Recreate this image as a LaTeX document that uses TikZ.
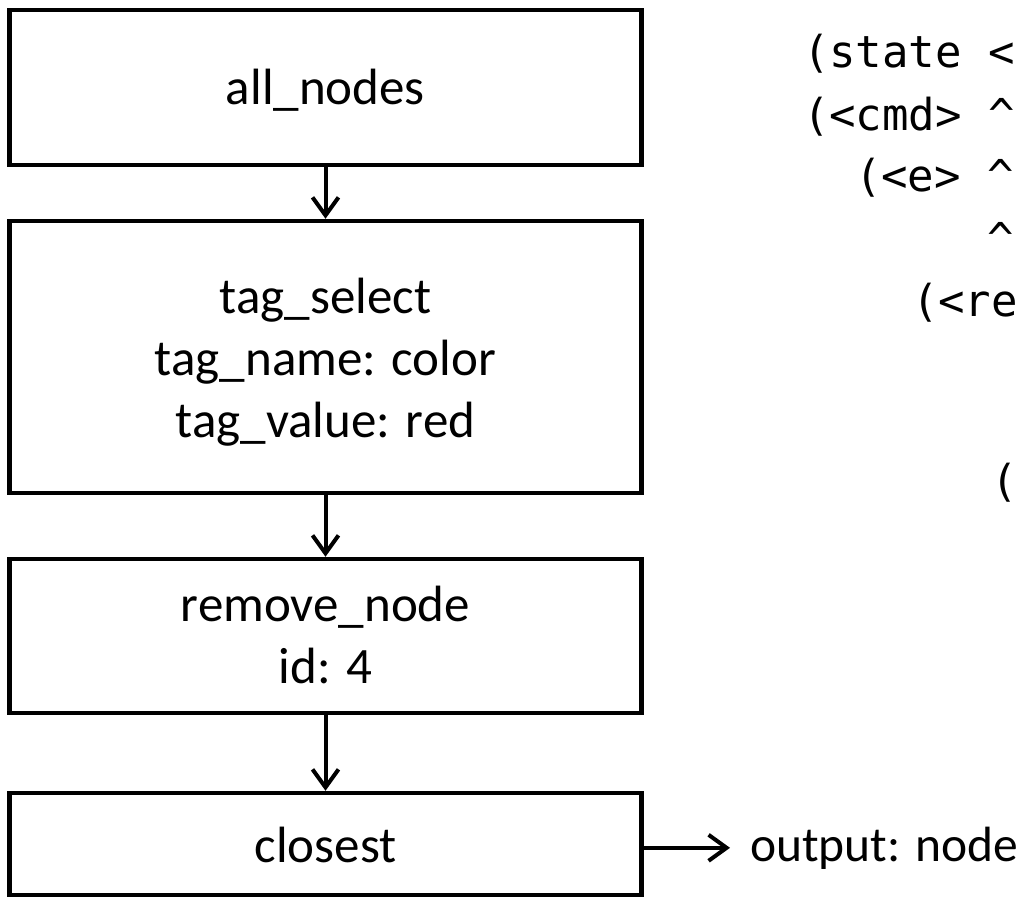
\documentclass[tikz,border=0pt]{standalone}
\usepackage{fontspec}
\setmainfont{Carlito}
\newfontfamily\codefont{DejaVu Sans Mono}
\usetikzlibrary{arrows.meta}

\begin{document}
\begin{tikzpicture}[x=1pt,y=-1pt,
  stepbox/.style={draw, line width=4.5pt, minimum width=632pt, inner sep=0pt},
  lbl/.style={font=\fontsize{51}{62}\selectfont, anchor=base, inner sep=0pt, outer sep=0pt},
  code/.style={font=\codefont\fontsize{44}{60}\selectfont, anchor=base west, inner sep=0pt, outer sep=0pt},
  flow/.style={line width=4pt, -{Straight Barb[length=18pt,width=26pt]}}]
\useasboundingbox (0,0) rectangle (1025,898);

% pipeline stages
\node[stepbox, minimum height=155pt] (allnodes) at (325.5,87.5) {};
\node[stepbox, minimum height=272pt] (tagsel)   at (325.5,357) {};
\node[stepbox, minimum height=154pt] (remove)   at (325.5,636) {};
\node[stepbox, minimum height=102pt] (closest)  at (325.5,844) {};

% stage labels
\node[lbl] (lallnodes) at (325.5,104) {all\_nodes};
\node[lbl] (ltagsel)   at (325.5,313) {tag\_select};
\node[lbl] (ltagname)  at (325.5,375) {tag\_name: color};
\node[lbl] (ltagvalue) at (325.5,437) {tag\_value: red};
\node[lbl] (lremove)   at (325.5,621) {remove\_node};
\node[lbl] (lid)       at (325.5,683) {id: 4};
\node[lbl] (lclosest)  at (325.5,862) {closest};

% result of the last stage
\node[lbl, anchor=base west, font=\fontsize{49.5}{60}\selectfont] (out) at (750,861) {output: node};

% flow between stages
\draw[flow] (allnodes) -- (tagsel);
\draw[flow] (tagsel) -- (remove);
\draw[flow] (remove) -- (closest);
\draw[flow, shorten >=20pt] (closest.east |- out.west) -- (out.west);

% grammar excerpt (monospaced, one node per line)
\node[code] (g1) at (803,67)  {(state <};
\node[code] (g2) at (803,130) {(<cmd> \textasciicircum};
\node[code] (g3) at (855,191) {(<e> \textasciicircum};
\node[code] (g4) at (987,254) {\textasciicircum};
\node[code] (g5) at (912,316) {(<re};
\node[code] (g6) at (991,496) {(};
\end{tikzpicture}
\end{document}
